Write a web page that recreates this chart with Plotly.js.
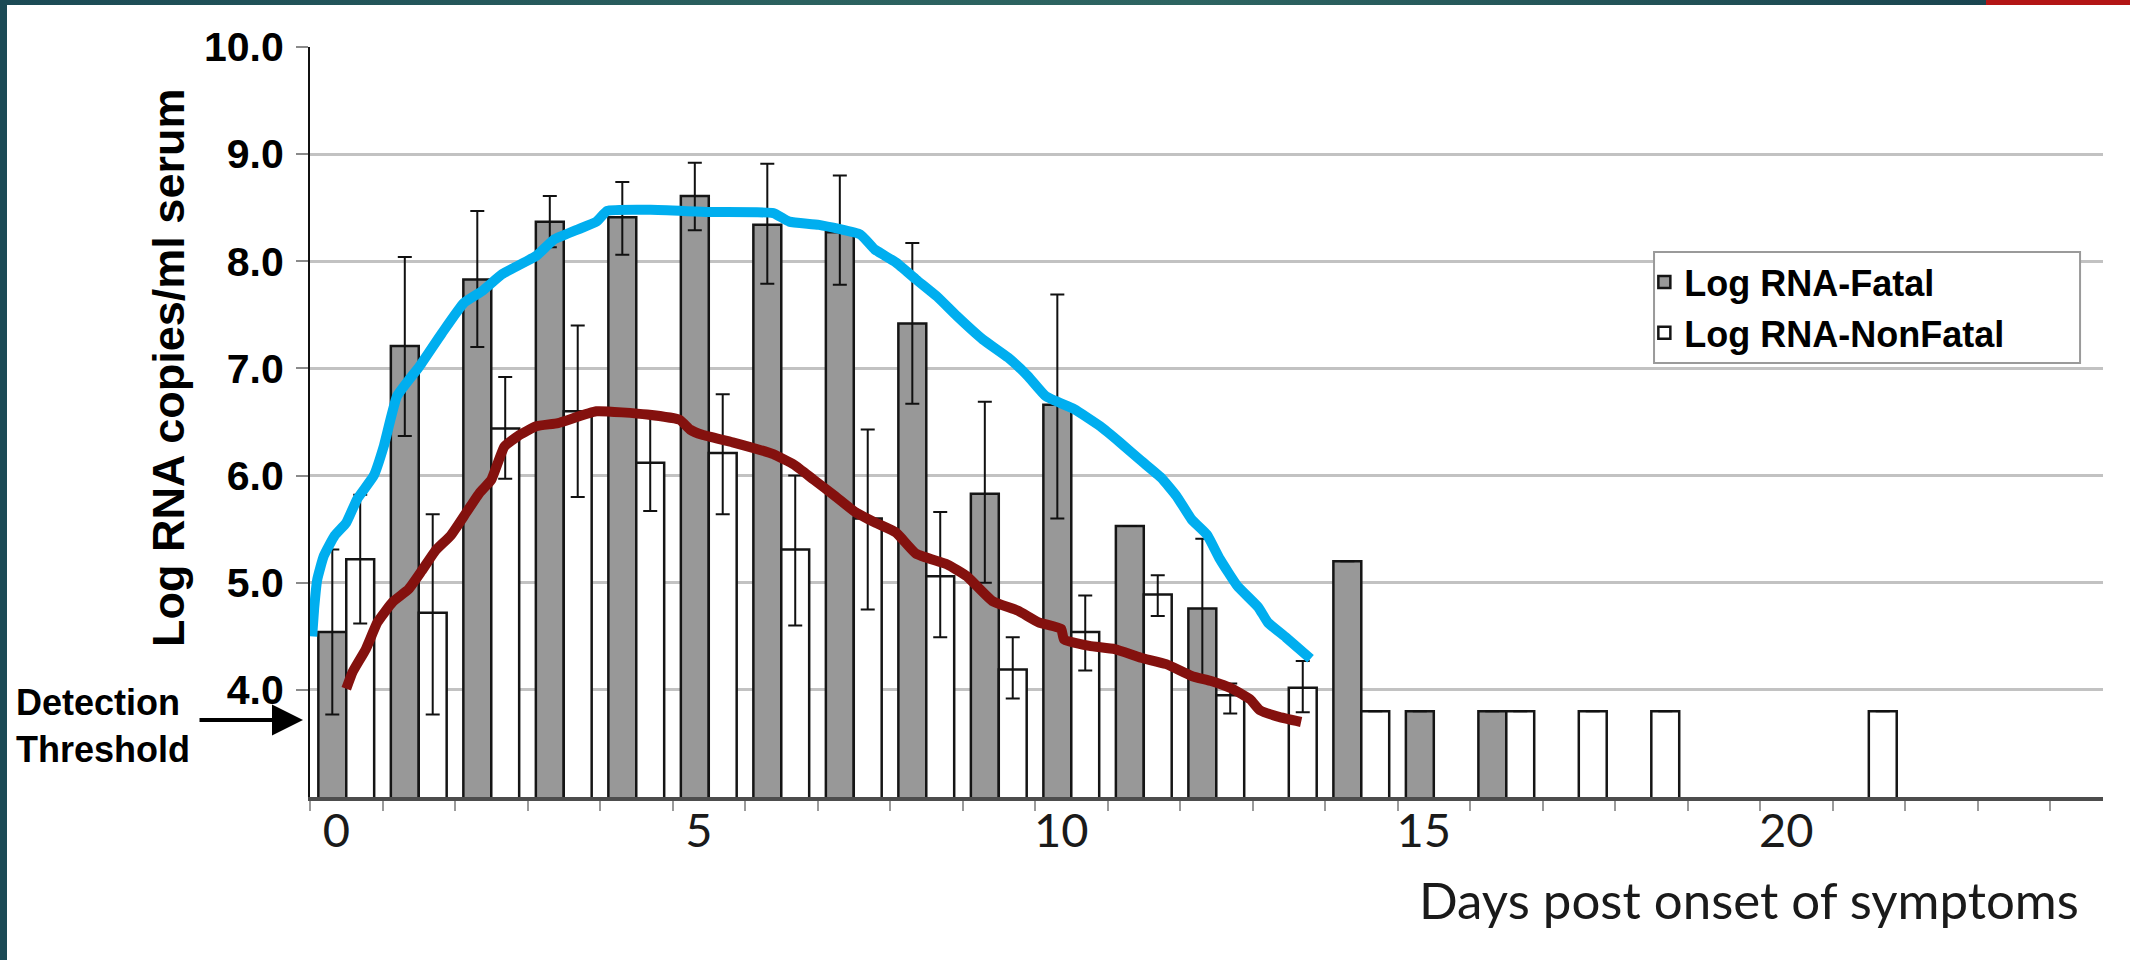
<!DOCTYPE html>
<html><head><meta charset="utf-8">
<script src="https://cdn.plot.ly/plotly-3.0.1.min.js"></script>
<style>
html,body{margin:0;padding:0;background:#fff;overflow:hidden;}
#chart{width:2133px;height:960px;position:absolute;left:0;top:0;}
.frameL{position:absolute;left:0;top:0;width:7px;height:960px;background:#1b4a55;}
.frameT{position:absolute;left:0;top:0;width:1986px;height:5px;background:linear-gradient(to right,#1b4a55 0%,#2b615f 40%,#2d6461 60%,#1a4550 100%);}
.frameR{position:absolute;left:1986px;top:0;width:144px;height:5px;background:#b31515;}
</style></head><body>
<div id="chart"></div>
<div class="frameL"></div><div class="frameT"></div><div class="frameR"></div>
<script>
// Days post onset of symptoms
const days = [0,1,2,3,4,5,6,7,8,9,10,11,12,13,14,15,16,17,18,19,20,21];
// Log RNA - Fatal (bar values, upper / lower error bar ends)
const fatal     = [4.54,7.21,7.83,8.37,8.41,8.61,8.34,8.27,7.42,5.83,6.66,5.53,4.76,null,5.20,3.80,3.80,null,null,null,null,null];
const fatalHi   = [5.31,8.04,8.47,8.61,8.74,8.92,8.91,8.80,8.17,6.69,7.69,null,5.41,null,null,null,null,null,null,null,null,null];
const fatalLo   = [3.77,6.37,7.20,8.13,8.06,8.29,7.79,7.78,6.67,5.00,5.60,null,4.12,null,null,null,null,null,null,null,null,null];
// Log RNA - NonFatal
const nonfatal   = [5.22,4.72,6.44,6.60,6.12,6.21,5.31,5.60,5.06,4.19,4.54,4.89,3.95,4.02,3.80,null,3.80,3.80,3.80,null,null,3.80];
const nonfatalHi = [5.82,5.64,6.92,7.40,6.55,6.76,6.00,6.43,5.66,4.49,4.88,5.07,4.06,4.27,null,null,null,null,null,null,null,null];
const nonfatalLo = [4.62,3.77,5.97,5.80,5.67,5.64,4.60,4.75,4.49,3.92,4.18,4.69,3.78,3.79,null,null,null,null,null,null,null,null];
// Hand-drawn trend curves
const blueDays = [-0.47,-0.44,-0.40,-0.31,-0.16,0.0,0.15,0.38,0.52,0.70,1.01,1.32,1.62,1.87,2.15,2.62,2.86,3.17,3.45,3.60,4.20,5.00,5.89,6.11,6.52,7.09,7.29,7.58,7.86,8.15,8.42,8.78,9.13,9.40,9.65,10.04,10.40,10.67,10.96,11.24,11.45,11.66,11.87,12.05,12.29,12.58,12.71,12.96,13.30];
const blueLog  = [4.50,4.78,5.03,5.25,5.44,5.56,5.78,6.00,6.28,6.74,7.02,7.33,7.61,7.72,7.88,8.05,8.20,8.29,8.37,8.47,8.48,8.46,8.45,8.37,8.34,8.25,8.11,7.99,7.83,7.67,7.49,7.27,7.10,6.93,6.74,6.62,6.46,6.31,6.14,5.98,5.81,5.59,5.45,5.22,4.97,4.77,4.63,4.49,4.29];
const redDays = [0.0,0.09,0.27,0.43,0.64,0.86,1.04,1.23,1.44,1.66,1.84,2.0,2.18,2.37,2.62,2.92,3.45,4.15,4.60,4.74,4.91,5.33,5.89,6.18,6.45,6.74,7.02,7.30,7.58,7.86,8.29,8.56,8.91,9.26,9.55,9.86,9.90,10.25,10.60,10.96,11.31,11.66,11.94,12.22,12.47,12.60,12.85,13.17];
const redLog  = [4.01,4.17,4.38,4.63,4.82,4.94,5.11,5.30,5.44,5.66,5.84,5.96,6.27,6.37,6.46,6.49,6.60,6.57,6.52,6.43,6.38,6.31,6.20,6.10,5.96,5.81,5.66,5.56,5.47,5.27,5.17,5.06,4.83,4.74,4.63,4.57,4.47,4.41,4.38,4.30,4.24,4.13,4.08,4.01,3.91,3.81,3.75,3.70];
const yTicks = [4,5,6,7,8,9,10];
const yGrid = [4,5,6,7,8,9];
const xLabels = [0,5,10,15,20];

const up = (v,h)=>v.map((x,i)=>(x==null||h[i]==null)?null:+(h[i]-x).toFixed(3));
const dn = (v,l)=>v.map((x,i)=>(x==null||l[i]==null)?null:+(x-l[i]).toFixed(3));

const errStyle = {color:'#111', thickness:2, width:7};
const traces = [
  {type:'bar', name:'Log RNA-Fatal', x:days, y:fatal, legendgroup:'a',
   marker:{color:'#989898', line:{color:'#151515', width:2.5}},
   error_y:Object.assign({type:'data', symmetric:false, array:up(fatal,fatalHi), arrayminus:dn(fatal,fatalLo), visible:true}, errStyle),
   hoverinfo:'skip'},
  {type:'bar', name:'Log RNA-NonFatal', x:days, y:nonfatal, legendgroup:'b',
   marker:{color:'#ffffff', line:{color:'#151515', width:2.5}},
   error_y:Object.assign({type:'data', symmetric:false, array:up(nonfatal,nonfatalHi), arrayminus:dn(nonfatal,nonfatalLo), visible:true}, errStyle),
   hoverinfo:'skip'},
  {type:'scatter', mode:'lines', x:blueDays, y:blueLog, showlegend:false,
   line:{color:'#00AEEF', width:10, shape:'spline', smoothing:0.4}, hoverinfo:'skip'},
  {type:'scatter', mode:'lines', x:redDays, y:redLog, showlegend:false,
   line:{color:'#84110E', width:10, shape:'spline', smoothing:0.4}, hoverinfo:'skip'},
  {type:'scatter', x:[], y:[], yaxis:'y2', showlegend:false, hoverinfo:'skip'}
];

const layout = {
  width:2133, height:960,
  margin:{l:310, r:30, t:47, b:163},
  paper_bgcolor:'#ffffff', plot_bgcolor:'rgba(0,0,0,0)',
  barmode:'group', bargap:0.23, bargroupgap:0,
  showlegend:true,
  legend:{x:0.7442, xanchor:'left', y:0.7267, yanchor:'top', bgcolor:'rgba(0,0,0,0)',
          borderwidth:0, traceorder:'grouped', tracegroupgap:1,
          font:{family:'Liberation Sans, Arial, sans-serif', size:36, weight:'bold', color:'#000'}},
  shapes:[
    {type:'rect', xref:'paper', yref:'paper', x0:0.7496, x1:0.9872, y0:0.5787, y1:0.7267,
     fillcolor:'#ffffff', line:{color:'#9a9a9a', width:2}, layer:'above'}
  ],
  xaxis:{range:[-0.5,24.23], tickmode:'array', tickvals:xLabels, ticks:'', showgrid:false,
         showline:true, linecolor:'#4d4d4d', linewidth:4, zeroline:false,
         tickfont:{family:'Lato, sans-serif', size:47, color:'#1a1a1a'}, ticklabelstandoff:-10, ticklabelshift:-10,
         minor:{tickmode:'linear', tick0:-0.5, dtick:1, ticks:'outside', ticklen:10, tickwidth:2, tickcolor:'#9a9a9a', showgrid:false},
         fixedrange:true},
  yaxis:{range:[3,10], tickmode:'array', tickvals:yTicks, tickformat:'.1f', ticks:'outside', ticklen:12,
         tickwidth:2, tickcolor:'#8a8a8a', showgrid:false, showline:true, linecolor:'#111', linewidth:2,
         zeroline:false, tickfont:{family:'Liberation Sans, Arial, sans-serif', size:41, weight:'bold', color:'#000'},
         ticklabelstandoff:4, fixedrange:true},
  yaxis2:{range:[3,10], overlaying:'y', anchor:'x', tickmode:'array', tickvals:yGrid, showgrid:true,
          gridcolor:'#c2c2c2', gridwidth:3, showticklabels:false, ticks:'', showline:false, zeroline:false, fixedrange:true},
  annotations:[
    {text:'Log RNA copies/ml serum', xref:'paper', yref:'paper', x:-0.0792, y:0.572, textangle:-90,
     xanchor:'center', yanchor:'middle', showarrow:false,
     font:{family:'Liberation Sans, Arial, sans-serif', size:45, weight:'bold', color:'#000'}},
    {text:'Days post onset of symptoms', xref:'paper', yref:'paper', x:0.9877, y:-0.1373,
     xanchor:'right', yanchor:'middle', showarrow:false,
     font:{family:'Lato, sans-serif', size:51, color:'#1a1a1a'}},
    {text:'Detection<br>Threshold', xref:'paper', yref:'paper', x:-0.165, y:0.0953,
     xanchor:'left', yanchor:'middle', align:'left', showarrow:false,
     font:{family:'Liberation Sans, Arial, sans-serif', size:36, weight:'bold', color:'#000'}},
    {text:'', xref:'paper', yref:'paper', x:-0.0039, y:0.1027, showarrow:true,
     ax:-105, ay:0, arrowhead:2, arrowsize:1.55, arrowwidth:4, arrowcolor:'#000'}
  ]
};
Plotly.newPlot('chart', traces, layout, {displayModeBar:false, staticPlot:true});
</script>
</body></html>
